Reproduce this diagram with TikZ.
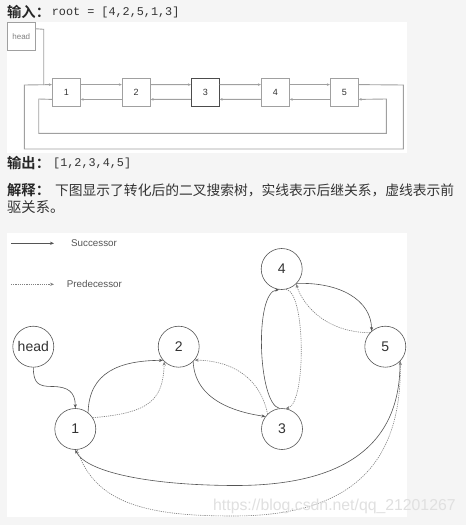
\documentclass[tikz,border=0pt]{standalone}
\usepackage{fontspec}
\setmainfont{Liberation Sans}
\newfontfamily\cjk{Noto Sans CJK SC}
\newfontfamily\cjkbold{Noto Sans CJK SC Bold}
\newfontfamily\mono{Liberation Mono}
\usetikzlibrary{arrows.meta}
\definecolor{pagebg}{HTML}{F5F5F5}
\definecolor{txt}{HTML}{333333}
\definecolor{ln}{HTML}{555555}
\definecolor{lnd}{HTML}{808080}
\definecolor{lnlight}{HTML}{A0A0A0}
\definecolor{wm}{HTML}{E0E0E0}
\begin{document}
\begin{tikzpicture}[x=1pt,y=-1pt,
  circ/.style={circle,draw=ln,line width=0.6pt,minimum size=41pt,inner sep=0pt,font=\fontsize{14}{16}\selectfont,text=txt},
  lbox/.style={draw=lnlight,line width=0.8pt,minimum width=28pt,minimum height=28pt,inner sep=0pt,font=\fontsize{9}{10}\selectfont,text=txt,fill=white},
  succ/.style={draw=ln,line width=0.6pt,-{Stealth[length=4pt,width=3.2pt]}},
  pred/.style={draw=lnd,line width=0.6pt,dash pattern=on 1.2pt off 1pt,-{Stealth[length=4pt,width=3.2pt]}},
  loopln/.style={draw=lnlight,line width=0.9pt},
  looparr/.style={loopln,-{Stealth[length=3pt,width=2.6pt]}},
  cjktext/.style={anchor=west,inner sep=0pt,text=txt,font=\cjk\fontsize{14.3}{16}\selectfont},
  cjkbtext/.style={anchor=west,inner sep=0pt,text=black!85,font=\cjkbold\fontsize{14.3}{16}\selectfont},
  monotext/.style={anchor=west,inner sep=0pt,text=txt,font=\mono\fontsize{11.8}{13}\selectfont},
  legendtext/.style={anchor=west,inner sep=0pt,text=ln,font=\fontsize{9.8}{11}\selectfont}
  ]
\useasboundingbox (0,0) rectangle (466,525);
\fill[pagebg] (0,0) rectangle (466,525);
\fill[white] (7,22) rectangle (407,153);
\fill[white] (7,233) rectangle (407,517);

% ---- top text ----
\node[cjkbtext] (t1) at (7,12) {输入：};
\node[monotext] (t1m) at (51.7,12.5) {root = [4,2,5,1,3]};
\node[cjkbtext] (t2) at (7,163) {输出：};
\node[monotext] (t2m) at (53,163.5) {[1,2,3,4,5]};
\node[cjkbtext] (t3) at (7,190) {解释：};
\node[cjktext] (t3r) at (55,190) {\resizebox{399pt}{!}{下图显示了转化后的二叉搜索树，实线表示后继关系，虚线表示前}};
\node[cjktext] (t4) at (7,207) {驱关系。};

% ---- top linked list ----
\node[lbox,minimum height=28.5pt,font=\fontsize{8}{9}\selectfont,text=gray] (hb) at (21.3,36.4) {head};
\node[lbox] (b1) at (66.3,92) {1};
\node[lbox] (b2) at (136.2,92) {2};
\node[lbox,draw=black!70,line width=0.7pt] (b3) at (205.3,92) {3};
\node[lbox] (b4) at (275.3,92) {4};
\node[lbox] (b5) at (344.3,92) {5};

\foreach \a/\b in {b1/b2,b2/b3,b3/b4,b4/b5}{
  \draw[looparr] ([yshift=-7pt]\a.north east) -- ([yshift=-7pt]\b.north west);
  \draw[looparr] ([yshift=7pt]\b.south west) -- ([yshift=7pt]\a.south east);
}
\coordinate (o1) at (403.3,85);
\coordinate (o2) at (403.3,149);
\coordinate (o3) at (24.3,149);
\coordinate (o4) at (24.3,85);
\draw[looparr] ([yshift=-7pt]b5.north east) -- (o1) -- (o2) -- (o3) -- (o4) -- ([yshift=-7pt]b1.north west);
\coordinate (h1) at (43.7,29.3);
\coordinate (h2) at (43.7,85);
\draw[loopln] ([yshift=-7pt]hb.north east) -- (h1) -- (h2);
\coordinate (i1) at (38.7,99);
\coordinate (i2) at (38.7,133.3);
\coordinate (i3) at (386.3,133.3);
\coordinate (i4) at (386.3,99);
\draw[looparr] ([yshift=7pt]b1.south west) -- (i1) -- (i2) -- (i3) -- (i4) -- ([yshift=7pt]b5.south east);

% ---- legend ----
\coordinate (ls1) at (11,243.3);
\coordinate (le1) at (54,243.3);
\coordinate (ls2) at (11,284.3);
\coordinate (le2) at (54,284.3);
\draw[succ] (ls1) -- (le1);
\draw[pred] (ls2) -- (le2);
\node[legendtext] (lg1) at (71,243) {Successor};
\node[legendtext] (lg2) at (66.7,284) {Predecessor};

% ---- tree nodes ----
\node[circ] (hd) at (33.3,346.7) {head};
\node[circ] (n2) at (178.7,346.7) {2};
\node[circ] (n5) at (385.3,346.7) {5};
\node[circ] (n4) at (281.7,269) {4};
\node[circ] (n1) at (75.3,429) {1};
\node[circ] (n3) at (282,429) {3};

% head -> 1
\draw[succ] (hd.south) .. controls (33.5,383) and (38,386.5) .. (52,386.5)
   .. controls (68,386.5) and (75.3,392) .. (n1.north);
% 1 -> 2
\draw[succ] (n1.52) .. controls (89,372) and (120,360.5) .. (n2.221);
% 1 .. 2 dotted
\draw[pred] (n1.33) .. controls (150,413) and (163,400) .. (n2.226);
% 2 -> 3
\draw[succ] (n2.-46) .. controls (195,400) and (235,412) .. (n3.143);
% 3 .. 2
\draw[pred] (n3.134) .. controls (262,385) and (240,361) .. (n2.-40);
% 3 -> 4
\draw[succ] (n3.97) .. controls (258,404) and (254,292) .. (n4.263);
% 4 .. 3
\draw[pred] (n4.-78) .. controls (306,292) and (306,404) .. (n3.80);
% 4 -> 5
\draw[succ] (n4.-44) .. controls (340,282) and (371,300) .. (n5.131);
% 5 .. 4
\draw[pred] (n5.138) .. controls (325,332) and (303,305) .. (n4.-46);
% 5 -> 1
\draw[succ] (n5.-45) .. controls (401,455) and (330,486) .. (233,485.5)
   .. controls (140,485) and (85,470) .. (n1.-90);
% 1 .. 5
\draw[pred] (n1.-85) .. controls (95,505) and (150,516) .. (233,516)
   .. controls (345,516) and (402,470) .. (n5.-44);

% watermark
\node[anchor=west,inner sep=0pt,text=wm,font=\fontsize{15.8}{18}\selectfont] (wmk) at (213,506.7) {https://blog.csdn.net/qq\_21201267};
\end{tikzpicture}
\end{document}
